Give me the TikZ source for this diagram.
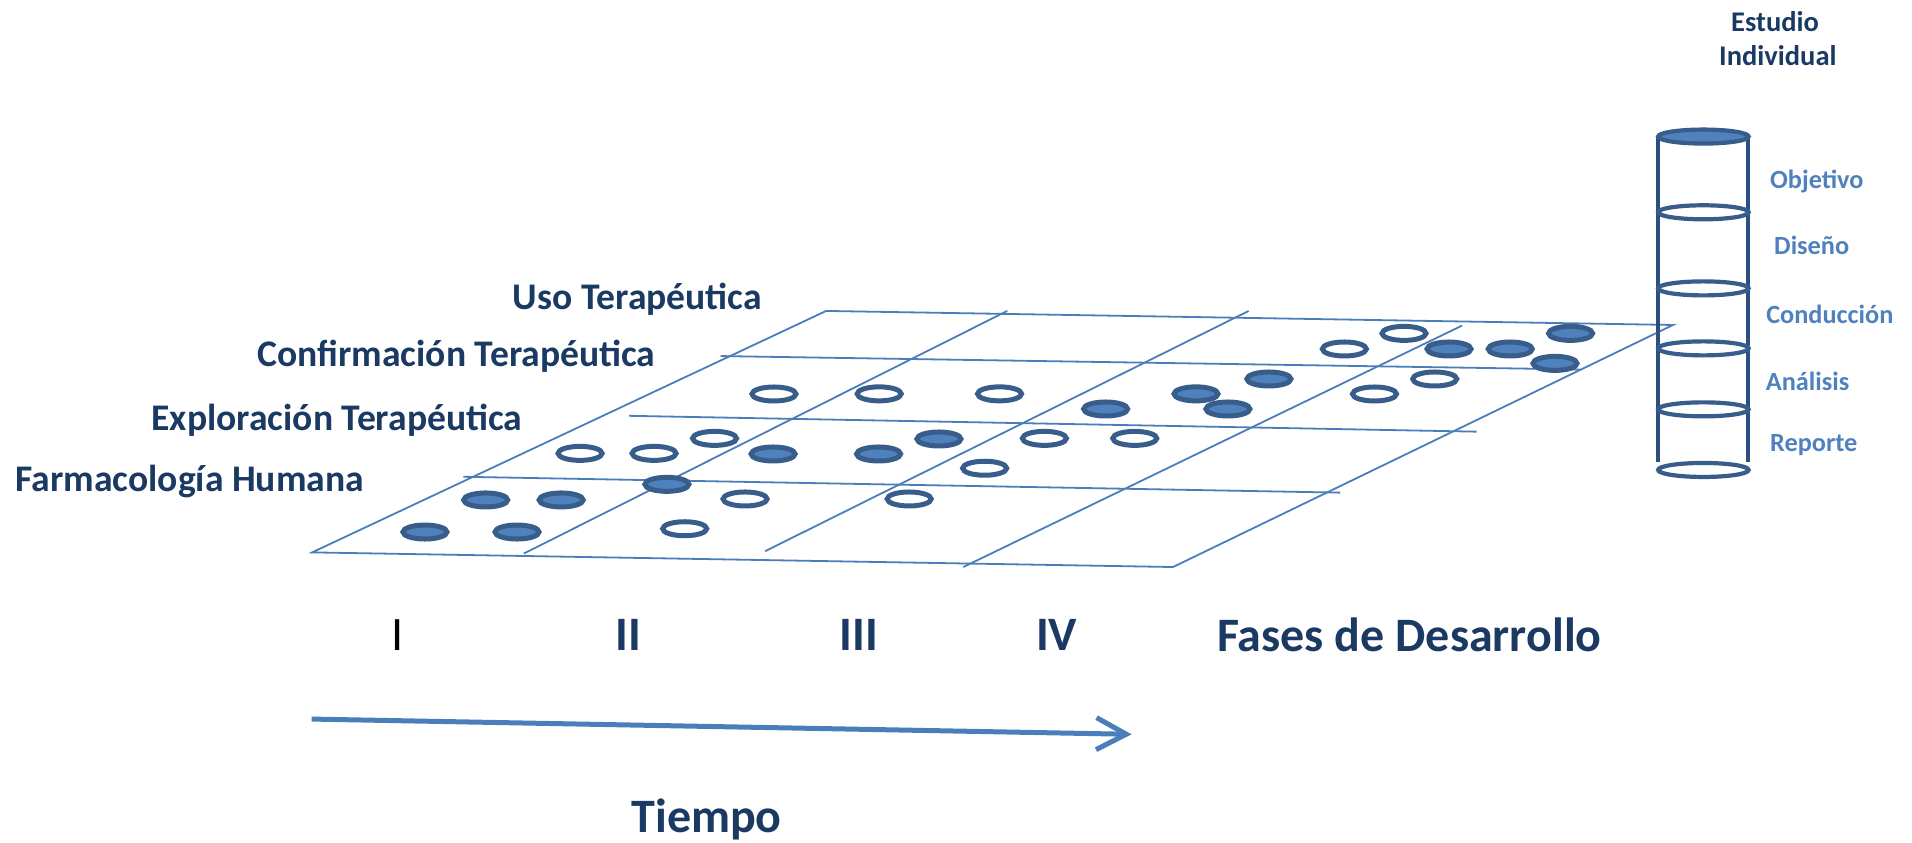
\documentclass[tikz,border=0pt]{standalone}
\usepackage{fontspec}
\setmainfont{Carlito}
\usetikzlibrary{shapes.geometric,arrows.meta}
\definecolor{navy}{HTML}{1B3A63}
\definecolor{gridblue}{HTML}{4A7EBB}
\definecolor{ringblue}{HTML}{385D8A}
\definecolor{fillblue}{HTML}{4F81BD}
\definecolor{lblblue}{HTML}{4F81BD}
\definecolor{cylline}{HTML}{2A4F80}
\begin{document}
\begin{tikzpicture}[x=1.2194pt,y=-1.2194pt,
  gridline/.style={gridblue,line width=1.8pt},
  ring/.style={ellipse,draw=ringblue,line width=5pt,inner sep=0pt,minimum width=44pt,minimum height=14pt},
  ringF/.style={ring,fill=fillblue},
  ringE/.style={ring},
  cylring/.style={ellipse,draw=ringblue,line width=4.2pt,inner sep=0pt,minimum width=90.5pt,minimum height=14pt},
  cylside/.style={cylline,line width=4pt},
  rowlabel/.style={anchor=base west,inner sep=0pt,text=navy,font=\bfseries\fontsize{37.6}{42}\selectfont},
  phaselabel/.style={anchor=base,inner sep=0pt,text=navy,font=\bfseries\fontsize{48}{54}\selectfont},
  steplabel/.style={anchor=base west,inner sep=0pt,text=lblblue,font=\bfseries\fontsize{26.3}{30}\selectfont},
  titlelabel/.style={anchor=base,inner sep=0pt,text=navy,font=\bfseries\fontsize{28.5}{32}\selectfont}]
\useasboundingbox (0,0) rectangle (1568,691);

% grid coordinates
\coordinate (BL) at (256,453);
\coordinate (BR) at (962,465);
\coordinate (TL) at (677.5,255);
\coordinate (TR) at (1372,266.5);
\coordinate (A1) at (591,292);   \coordinate (A2) at (1296,303);
\coordinate (B1) at (516,341);   \coordinate (B2) at (1211,354);
\coordinate (C1) at (380,391);   \coordinate (C2) at (1099,404);
\coordinate (D1a) at (429.5,454); \coordinate (D1b) at (826,255);
\coordinate (D2a) at (627.5,452); \coordinate (D2b) at (1024,255);
\coordinate (D3a) at (790,465);   \coordinate (D3b) at (1199,267);

\draw[gridline] (BL) -- (BR) -- (TR) -- (TL) -- cycle;
\draw[gridline] (A1) -- (A2);
\draw[gridline] (B1) -- (B2);
\draw[gridline] (C1) -- (C2);
\draw[gridline] (D1a) -- (D1b);
\draw[gridline] (D2a) -- (D2b);
\draw[gridline] (D3a) -- (D3b);

% studies
\node[ringF] (e1) at (348.5,436.3) {};
\node[ringF] (e2) at (424,436.3) {};
\node[ringF] (e3) at (398.3,410) {};
\node[ringF] (e4) at (460.2,410) {};
\node[ringE] (e5) at (561.5,433.6) {};
\node[ringE] (e6) at (611,409.2) {};
\node[ringF] (e7) at (546.9,397.2) {};
\node[ringE] (e8) at (745.6,409.2) {};
\node[ringE] (e9) at (475.7,371.8) {};
\node[ringE] (e10) at (536.4,371.8) {};
\node[ringE] (e11) at (586,359.5) {};
\node[ringF] (e12) at (634,372.3) {};
\node[ringF] (e13) at (720.5,372.3) {};
\node[ringF] (e14) at (770,360) {};
\node[ringE] (e15) at (807.5,384) {};
\node[ringE] (e16) at (856.5,359.5) {};
\node[ringE] (e17) at (930.6,359.5) {};
\node[ringE] (e18) at (634.7,323.1) {};
\node[ringE] (e19) at (721,323) {};
\node[ringE] (e20) at (819.7,323) {};
\node[ringF] (e21) at (906.7,335.4) {};
\node[ringF] (e22) at (980.8,323) {};
\node[ringF] (e23) at (1007,335.4) {};
\node[ringF] (e24) at (1040.6,310.8) {};
\node[ringE] (e25) at (1127.2,323.1) {};
\node[ringE] (e26) at (1176.6,310.8) {};
\node[ringE] (e27) at (1102.5,286.2) {};
\node[ringE] (e28) at (1151.4,273.4) {};
\node[ringF] (e29) at (1188.3,286.2) {};
\node[ringF] (e30) at (1238.5,286.2) {};
\node[ringF] (e31) at (1288,273.4) {};
\node[ringF] (e32) at (1275.2,298) {};

% row labels
\node[rowlabel] (uso) at (420.5,254) {Uso Terapéutica};
\node[rowlabel] (conf) at (211,300.7) {Confirmación Terapéutica};
\node[rowlabel] (expl) at (124,353.2) {Exploración Terapéutica};
\node[rowlabel] (farm) at (12.6,402.7) {Farmacología Humana};

% phases
\node[anchor=base,inner sep=0pt,text=black,font=\fontsize{48}{54}\selectfont] (p1) at (326,533.6) {I};
\node[phaselabel] (p2) at (515.4,533.6) {II};
\node[phaselabel] (p3) at (704.2,533.6) {III};
\node[phaselabel] (p4) at (866.6,533.6) {IV};
\node[phaselabel,anchor=base west] (fases) at (998,534) {Fases de Desarrollo};

% time arrow
\coordinate (t0) at (255.5,589.7);
\coordinate (t1) at (928,602.2);
\draw[gridblue,line width=5pt,-{Straight Barb[length=30pt,width=32pt]}] (t0) -- (t1);
\node[phaselabel] (tiempo) at (579.5,683) {Tiempo};

% cylinder
\coordinate (cl1) at (1360,112);   \coordinate (cl2) at (1360,378.6);
\coordinate (cr1) at (1433.7,112); \coordinate (cr2) at (1433.7,378.6);
\draw[cylside] (cl1) -- (cl2);
\draw[cylside] (cr1) -- (cr2);
\node[cylring,fill=fillblue] (c1) at (1396.9,112) {};
\node[cylring] (c2) at (1396.9,174.1) {};
\node[cylring] (c3) at (1396.9,236.5) {};
\node[cylring] (c4) at (1396.9,285.7) {};
\node[cylring] (c5) at (1396.9,335.7) {};
\node[cylring] (c6) at (1396.9,385.4) {};

\node[titlelabel] (est) at (1455.7,26) {Estudio};
\node[titlelabel] (ind) at (1458,54.1) {Individual};

\node[steplabel] (obj) at (1451.5,154.5) {Objetivo};
\node[steplabel] (dis) at (1454.8,209.1) {Diseño};
\node[steplabel] (con) at (1448.3,265.7) {Conducción};
\node[steplabel] (ana) at (1448,320.4) {Análisis};
\node[steplabel] (rep) at (1451.5,370.4) {Reporte};
\end{tikzpicture}
\end{document}
